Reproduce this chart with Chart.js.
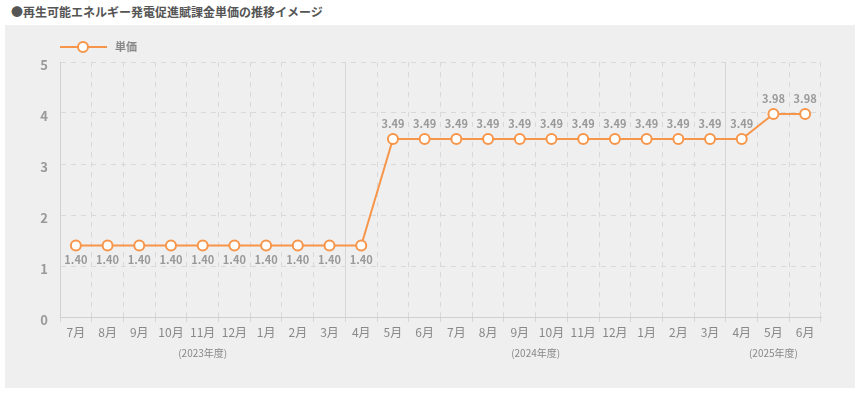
<!DOCTYPE html>
<html lang="ja">
<head>
<meta charset="utf-8">
<script src="https://cdn.jsdelivr.net/npm/chart.js@4.4.1/dist/chart.umd.min.js"></script>
<style>
body { margin: 0; background: #fff; font-family: 'Noto Sans CJK JP', sans-serif; }
#title { position: absolute; left: 11px; top: 3px; font-size: 12px; font-weight: bold; color: #555; white-space: nowrap; }
#panel { position: absolute; left: 5px; top: 25px; width: 850px; height: 363px; background: #efefef; }
</style>
</head>
<body>
<div id="title">●再生可能エネルギー発電促進賦課金単価の推移イメージ</div>
<div id="panel"><canvas id="chart" width="850" height="363"></canvas></div>
<script>
// 2023年7月 〜 2025年6月
const months = ['7月', '8月', '9月', '10月', '11月', '12月', '1月', '2月', '3月',
    '4月', '5月', '6月', '7月', '8月', '9月', '10月', '11月', '12月', '1月', '2月', '3月',
    '4月', '5月', '6月'];
const fiscalYears = ['(2023年度)', '(2024年度)', '(2025年度)'];
const unitPrice = [1.40, 1.40, 1.40, 1.40, 1.40, 1.40, 1.40, 1.40, 1.40, 1.40,
    3.49, 3.49, 3.49, 3.49, 3.49, 3.49, 3.49, 3.49, 3.49, 3.49, 3.49, 3.49,
    3.98, 3.98];
const yTicks = [0, 1, 2, 3, 4, 5];
const seriesName = '単価';

const orange = '#f7964a';
const font = "'Noto Sans CJK JP', sans-serif";

// group month indexes by fiscal year (new year starts at 4月)
const yearGroups = [];
months.forEach((m, i) => {
    if (i === 0 || m === '4月') yearGroups.push([]);
    yearGroups[yearGroups.length - 1].push(i);
});

const extras = {
    id: 'extras',
    afterDatasetsDraw(chart) {
        const ctx = chart.ctx;
        const meta = chart.getDatasetMeta(0);
        ctx.save();
        // value labels
        ctx.font = 'bold 11px ' + font;
        ctx.fillStyle = '#999';
        ctx.textAlign = 'center';
        ctx.textBaseline = 'middle';
        meta.data.forEach((pt, i) => {
            const v = unitPrice[i];
            const dy = v < 2 ? 14 : -15;
            ctx.fillText(v.toFixed(2), pt.x, pt.y + dy);
        });

        // fiscal year labels
        const x = chart.scales.x;
        ctx.font = '10px ' + font;
        ctx.fillStyle = '#888';
        yearGroups.forEach((g, k) => {
            const cx = (x.getPixelForValue(g[0]) + x.getPixelForValue(g[g.length - 1])) / 2;
            ctx.fillText(fiscalYears[k], cx, chart.chartArea.bottom + 36);
        });

        // legend
        const lx = chart.chartArea.left;
        const ly = 22;
        ctx.strokeStyle = orange;
        ctx.lineWidth = 2;
        ctx.beginPath();
        ctx.moveTo(lx, ly);
        ctx.lineTo(lx + 47, ly);
        ctx.stroke();
        ctx.beginPath();
        ctx.arc(lx + 23, ly, 5, 0, Math.PI * 2);
        ctx.fillStyle = '#fff';
        ctx.fill();
        ctx.stroke();
        ctx.font = 'bold 11px ' + font;
        ctx.fillStyle = '#888';
        ctx.textAlign = 'left';
        ctx.fillText(seriesName, lx + 55, ly);
        ctx.restore();
    }
};

new Chart(document.querySelector('#chart'), {
    type: 'line',
    data: {
        labels: months,
        datasets: [
            {
                label: seriesName,
                data: unitPrice,
                borderColor: orange,
                borderWidth: 2,
                pointRadius: 5,
                pointBorderWidth: 2,
                pointBackgroundColor: '#fff',
                pointBorderColor: orange,
                tension: 0
            }
        ]
    },
    options: {
        responsive: false,
        animation: false,
        layout: { padding: { top: 37, right: 34, left: 0, bottom: 0 } },
        plugins: {
            legend: { display: false },
            tooltip: { enabled: false }
        },
        scales: {
            x: {
                offset: true,
                grid: {
                    offset: true,
                    color: (c) => months[c.index] === '4月' ? '#d6d6d6' : '#d9d9d9',
                    tickColor: '#d6d6d6',
                    tickLength: 5,
                    tickBorderDash: []
                },
                border: {
                    color: '#d0d0d0',
                    dash: (c) => months[c.index] === '4月' ? [] : [5, 5]
                },
                ticks: {
                    color: '#888',
                    font: { family: font, size: 12 },
                    padding: 3,
                    maxRotation: 0,
                    autoSkip: false
                },
                afterFit(scale) { scale.height = 71; }
            },
            y: {
                min: 0,
                max: 5,
                afterBuildTicks(scale) { scale.ticks = yTicks.map(v => ({ value: v })); },
                grid: { color: '#d9d9d9', drawTicks: false },
                border: { color: '#d0d0d0', dash: [5, 5] },
                ticks: {
                    color: '#999',
                    font: { family: font, size: 13, weight: 'bold' },
                    padding: 12,
                    labelOffset: 3
                },
                afterFit(scale) { scale.width = 55; }
            }
        }
    },
    plugins: [extras]
});
</script>
</body>
</html>
